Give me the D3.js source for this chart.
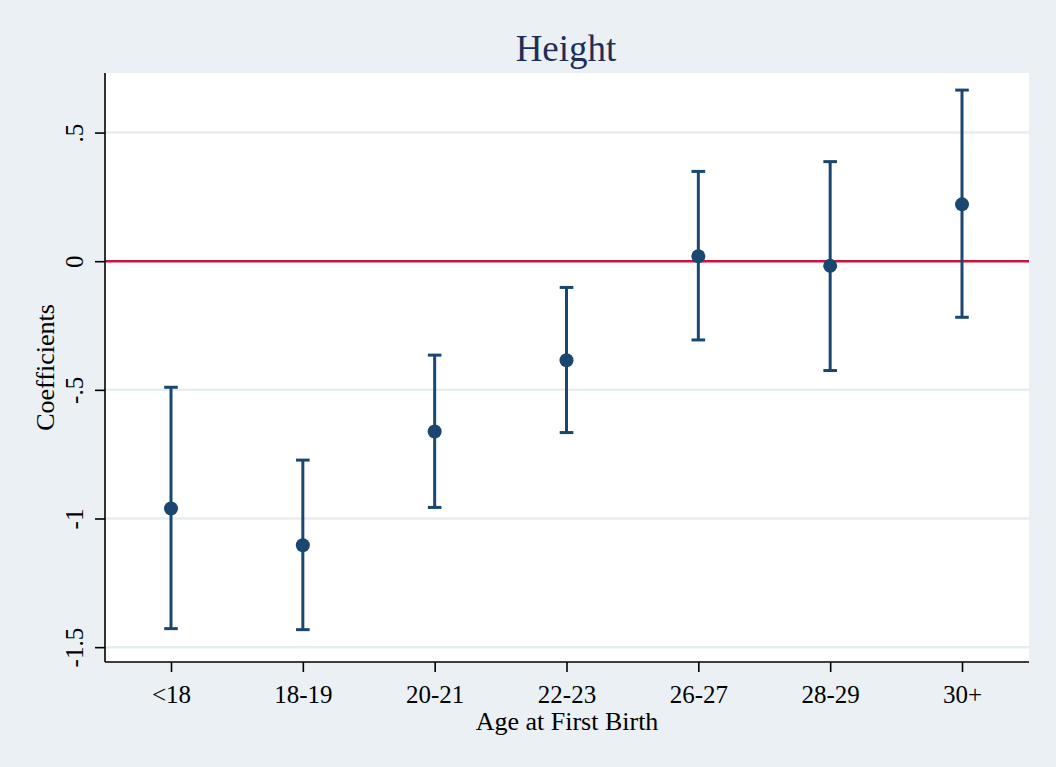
<!DOCTYPE html>
<html><head><meta charset="utf-8">
<script src="https://cdn.jsdelivr.net/npm/d3@7"></script>
<style>
html,body{margin:0;padding:0;background:#eaf0f3;}
svg{display:block;}
text{font-family:"Liberation Serif","Times New Roman",serif;}
</style></head>
<body>
<script>
const categories = ["<18","18-19","20-21","22-23","26-27","28-29","30+"];
const coef  = [-0.961, -1.104, -0.662, -0.385, 0.019, -0.018, 0.221];
const lower = [-1.428, -1.432, -0.957, -0.666, -0.306, -0.425, -0.218];
const upper = [-0.490, -0.773, -0.365, -0.102, 0.349, 0.387, 0.665];
const yTicks = [-1.5, -1, -0.5, 0, 0.5];
const yTickLabels = ["-1.5","-1","-.5","0",".5"];
const titleText = "Height";
const xTitle = "Age at First Birth";
const yTitle = "Coefficients";

const W = 1056, H = 767;
const m = {left:105, right:1029, top:73, bottom:662};
const svg = d3.select("body").append("svg").attr("width",W).attr("height",H);
svg.append("rect").attr("width",W).attr("height",H).attr("fill","#eaf0f3");
svg.append("rect").attr("x",m.left).attr("y",m.top).attr("width",m.right-m.left).attr("height",m.bottom-m.top).attr("fill","#ffffff");

const x = d3.scalePoint().domain(categories).range([171, 962]);
const y = d3.scaleLinear().domain([0, 1]).range([261.2, 261.2-257.3]);

// gridlines
svg.append("g").selectAll("line").data(yTicks.filter(v=>v!==0)).join("line")
  .attr("x1",m.left).attr("x2",m.right).attr("y1",d=>y(d)).attr("y2",d=>y(d))
  .attr("stroke","#e6eef0").attr("stroke-width",2.5);

// zero line
svg.append("line").attr("x1",m.left).attr("x2",m.right).attr("y1",y(0)).attr("y2",y(0))
  .attr("stroke","#c8133f").attr("stroke-width",2.5);

// y axis
const yAxis = d3.axisLeft(y).tickValues(yTicks).tickFormat((d,i)=>yTickLabels[i]).tickSize(10).tickPadding(0);
const gy = svg.append("g").attr("transform",`translate(${m.left},0)`).call(yAxis);
gy.select(".domain").attr("d",`M0,${m.top}V${m.bottom}`).attr("stroke","#000").attr("stroke-width",1.6);
gy.selectAll(".tick line").attr("stroke","#000").attr("stroke-width",1.6);
gy.selectAll(".tick text").attr("font-size",25).attr("fill","#000")
  .attr("font-family","'Liberation Serif','Times New Roman',serif")
  .attr("text-anchor","middle").attr("x",0).attr("dy",0)
  .attr("transform","translate(-22,0) rotate(-90)");

// x axis
const xAxis = d3.axisBottom(x).tickSize(10).tickPadding(0);
const gx = svg.append("g").attr("transform",`translate(0,${m.bottom})`).call(xAxis);
gx.select(".domain").attr("d",`M${m.left},0H${m.right}`).attr("stroke","#000").attr("stroke-width",1.6);
gx.selectAll(".tick line").attr("stroke","#000").attr("stroke-width",1.6);
gx.selectAll(".tick text").attr("font-size",25).attr("fill","#000")
  .attr("font-family","'Liberation Serif','Times New Roman',serif")
  .attr("dy",0).attr("y",41);

// error bars
const data = categories.map((c,i)=>({c, v:coef[i], lo:lower[i], hi:upper[i]}));
const col = "#1a476f";
const g = svg.append("g");
g.selectAll("line.v").data(data).join("line").attr("class","v")
  .attr("x1",d=>x(d.c)).attr("x2",d=>x(d.c)).attr("y1",d=>y(d.lo)).attr("y2",d=>y(d.hi))
  .attr("stroke",col).attr("stroke-width",3);
g.selectAll("line.lc").data(data).join("line").attr("class","lc")
  .attr("x1",d=>x(d.c)-6.8).attr("x2",d=>x(d.c)+6.8).attr("y1",d=>y(d.lo)).attr("y2",d=>y(d.lo))
  .attr("stroke",col).attr("stroke-width",3);
g.selectAll("line.uc").data(data).join("line").attr("class","uc")
  .attr("x1",d=>x(d.c)-6.8).attr("x2",d=>x(d.c)+6.8).attr("y1",d=>y(d.hi)).attr("y2",d=>y(d.hi))
  .attr("stroke",col).attr("stroke-width",3);
g.selectAll("circle").data(data).join("circle")
  .attr("cx",d=>x(d.c)).attr("cy",d=>y(d.v)).attr("r",7).attr("fill",col);

// titles
svg.append("text").attr("x",566).attr("y",61).attr("text-anchor","middle")
  .attr("font-size",37).attr("fill","#1e2e5a").text(titleText);
svg.append("text").attr("x",567).attr("y",730).attr("text-anchor","middle")
  .attr("font-size",26).attr("fill","#000").text(xTitle);
svg.append("text").attr("transform",`translate(54,${(m.top+m.bottom)/2}) rotate(-90)`)
  .attr("text-anchor","middle").attr("font-size",26).attr("fill","#000").text(yTitle);
</script>
</body></html>
